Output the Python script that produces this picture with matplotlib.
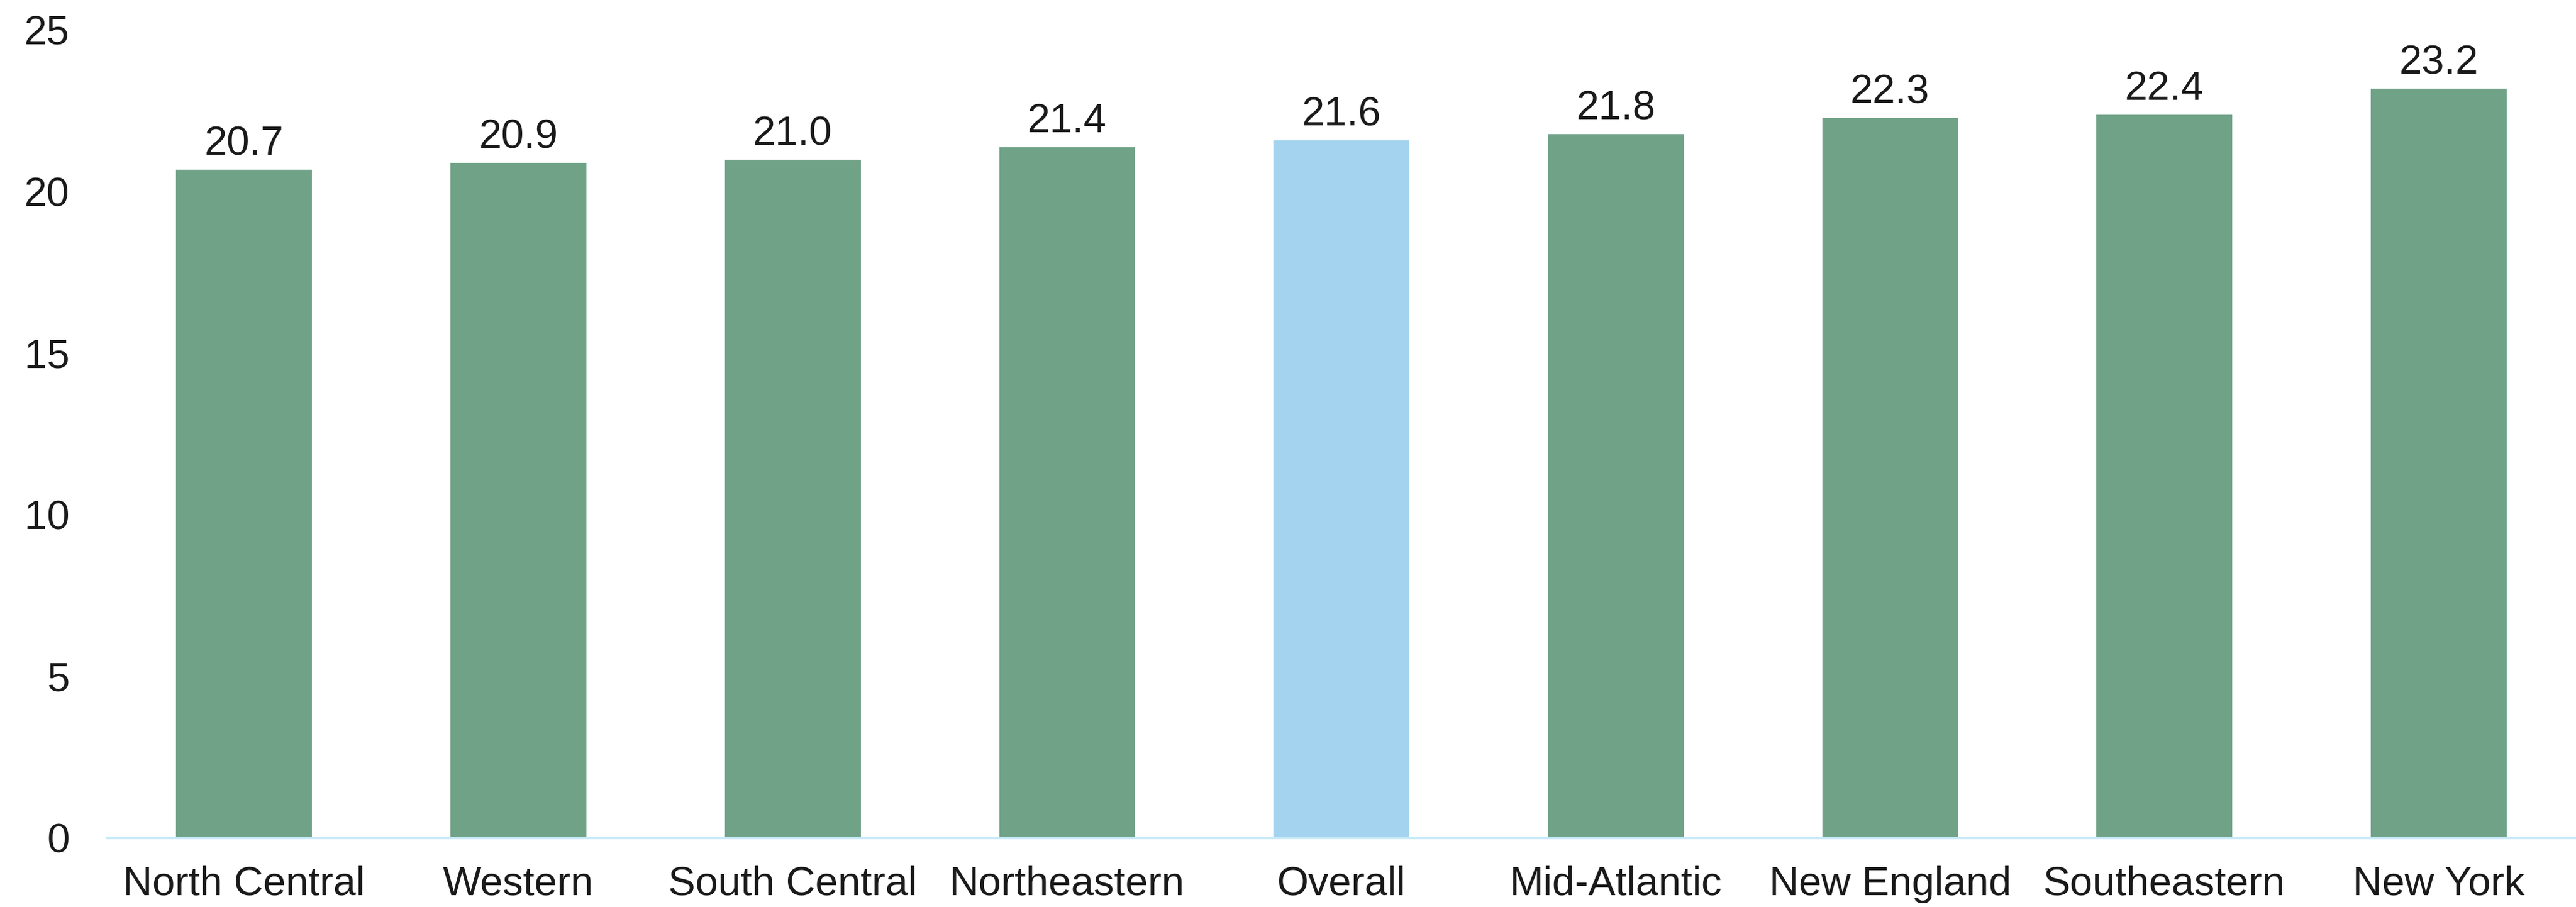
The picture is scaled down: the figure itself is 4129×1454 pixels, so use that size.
import matplotlib.pyplot as plt

regions = ["North Central", "Western", "South Central", "Northeastern", "Overall",
           "Mid-Atlantic", "New England", "Southeastern", "New York"]
values = [20.7, 20.9, 21.0, 21.4, 21.6, 21.8, 22.3, 22.4, 23.2]
highlight = "Overall"

green = "#70A288"
blue = "#A3D3EE"
text_col = "#1a1a1a"

plt.rcParams['font.family'] = ['Liberation Sans', 'DejaVu Sans']

fig = plt.figure(figsize=(41.29, 14.54), dpi=100)
ax = fig.add_axes([0.0415, 0.076, 0.9585, 0.891])

colors = [blue if r == highlight else green for r in regions]
bars = ax.bar(range(len(regions)), values, width=0.5, color=colors,
              edgecolor="white", linewidth=1.5, zorder=2)

for b, v in zip(bars, values):
    ax.annotate(f"{v:.1f}", (b.get_x() + b.get_width() / 2, v),
                xytext=(0, 7), textcoords="offset points",
                ha="center", va="bottom", fontsize=47, color=text_col)

ax.set_xlim(-0.5, len(regions) - 0.5)
ax.set_ylim(0, 25)
ax.set_yticks([0, 5, 10, 15, 20, 25])
ax.set_xticks(range(len(regions)))
ax.set_xticklabels(regions)

ax.tick_params(axis="x", length=0, pad=32, labelsize=47, labelcolor=text_col)
ax.tick_params(axis="y", length=0, pad=43, labelsize=47, labelcolor=text_col)

for s in ["top", "right", "left"]:
    ax.spines[s].set_visible(False)
ax.spines["bottom"].set_color("#C5E9F7")
ax.spines["bottom"].set_linewidth(2.5)
ax.spines["bottom"].set_zorder(3)

fig.savefig("out.png", dpi=100)
